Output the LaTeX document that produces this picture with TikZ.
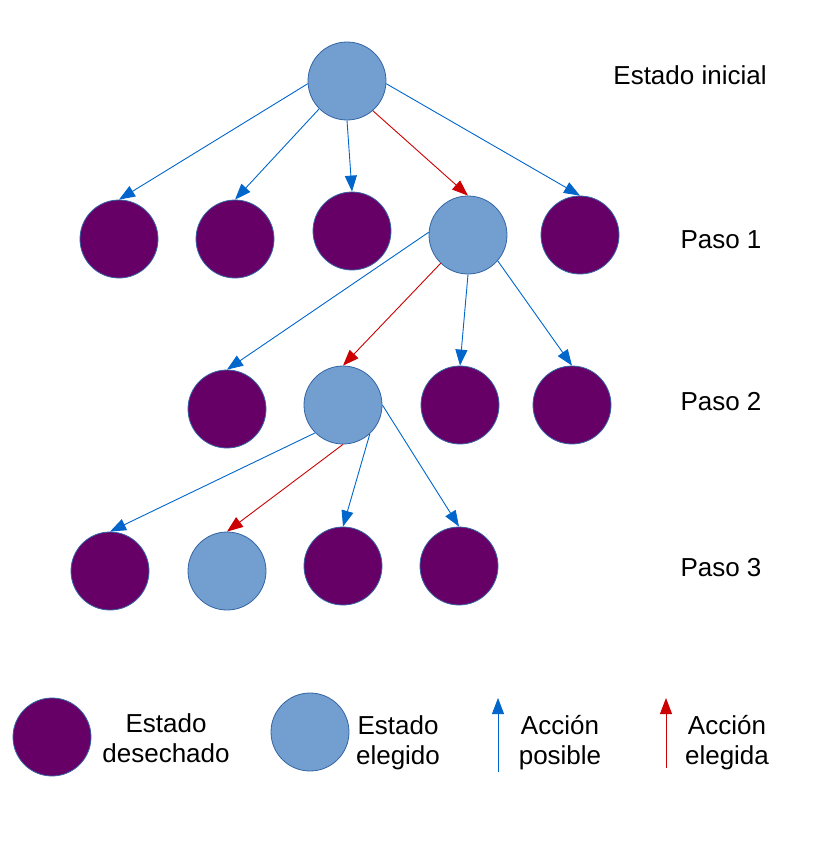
\documentclass[tikz,border=0pt]{standalone}
\usepackage{fontspec}
\setmainfont{Liberation Sans}
\usepackage{xcolor}
\usetikzlibrary{arrows.meta}
\definecolor{morado}{RGB}{102,0,102}
\definecolor{celeste}{RGB}{114,159,207}
\definecolor{borde}{RGB}{52,101,164}
\definecolor{azul}{RGB}{0,102,204}
\definecolor{rojo}{RGB}{204,0,0}

\begin{document}
\begin{tikzpicture}[x=0.5pt,y=-0.5pt,font=\fontsize{13}{15}\selectfont,
  nododes/.style={circle,fill=morado,draw=borde,line width=0.4pt,minimum size=39pt,inner sep=0pt},
  nodoele/.style={circle,fill=celeste,draw=borde,line width=0.4pt,minimum size=39pt,inner sep=0pt},
  accpos/.style={draw=azul,line width=0.45pt,-{Triangle[length=8pt,width=6pt]}},
  accele/.style={draw=rojo,line width=0.45pt,-{Triangle[length=8pt,width=6pt]}}]
\useasboundingbox (0,0) rectangle (832,851);
%% estado inicial
\node[nodoele] (r) at (347,81) {};
\node (tini) at (690,75) {Estado inicial};
%% paso 1
\node[nododes] (a1) at (119,239) {};
\node[nododes] (a2) at (235,239) {};
\node[nododes] (a3) at (352,231) {};
\node[nodoele] (a4) at (468,235) {};
\node[nododes] (a5) at (580,235) {};
\node (tp1) at (721,240) {Paso 1};
%% paso 2
\node[nododes] (b1) at (227,409) {};
\node[nodoele] (b2) at (343,405) {};
\node[nododes] (b3) at (460,405) {};
\node[nododes] (b4) at (572,405) {};
\node (tp2) at (721,402) {Paso 2};
%% paso 3
\node[nododes] (c1) at (110,571) {};
\node[nodoele] (c2) at (227,571) {};
\node[nododes] (c3) at (343,566) {};
\node[nododes] (c4) at (459,566) {};
\node (tp3) at (721,568) {Paso 3};
%%
\draw[accpos] (r.184) -- (a1.north);
\draw[accpos] (r.225) -- (a2.north);
\draw[accpos] (r.south) -- (a3.north);
\draw[accele] (r.311) -- (a4.north);
\draw[accpos] (r.356) -- (a5.north);
%%
\draw[accpos] (a4.176) -- (b1.north);
\draw[accele] (a4.226) -- (b2.north);
\draw[accpos] (a4.south) -- (b3.north);
\draw[accpos] (a4.319) -- (b4.north);
%%
\draw[accpos] (b2.225) -- (c1.north);
\draw[accele] (b2.south) -- (c2.north);
\draw[accpos] (b2.313) -- (c3.north);
\draw[accpos] (b2.east) -- (c4.north);
%% leyenda
\node[nododes] (ldes) at (52,737) {};
\node[align=center] (tdes) at (166,738) {Estado\\desechado};
\node[nodoele] (lele) at (310,732) {};
\node[align=center] (tele) at (398,743) {Estado\\elegido};
\coordinate (pa) at (498,772);
\coordinate (pb) at (498,698);
\draw[accpos] (pa) -- (pb);
\node[align=center] (tpos) at (560,743) {Acción\\posible};
\coordinate (ea) at (666,768);
\coordinate (eb) at (666,698);
\draw[accele] (ea) -- (eb);
\node[align=center] (tacc) at (727,743) {Acción\\elegida};
\end{tikzpicture}
\end{document}
